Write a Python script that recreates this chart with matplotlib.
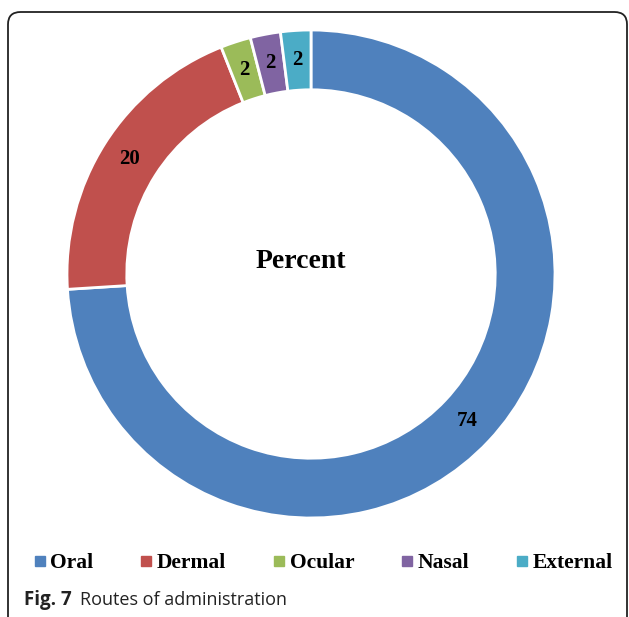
import matplotlib
matplotlib.use("Agg")
import matplotlib.pyplot as plt
import numpy as np
from matplotlib.patches import FancyBboxPatch
from matplotlib.lines import Line2D

# Routes of administration (percent)
routes = ["Oral", "Dermal", "Ocular", "Nasal", "External"]
percent = [74, 20, 2, 2, 2]
colors = ["#4F81BD", "#C0504D", "#9BBB59", "#8064A2", "#4BACC6"]

fig = plt.figure(figsize=(6.29, 6.17), dpi=100)

# rounded frame around the figure panel
frame = FancyBboxPatch((8 / 629, -0.05), 619 / 629, 1 - 12 / 617 + 0.05,
                       boxstyle="round,pad=0,rounding_size=0.02",
                       transform=fig.transFigure, fill=False,
                       edgecolor="#222222", linewidth=1.3)
fig.patches.append(frame)

ax = fig.add_axes([67 / 629, 99 / 617, 488 / 629, 488 / 617])
wedges, _ = ax.pie(percent, colors=colors, startangle=90, counterclock=False,
                   radius=1.0,
                   wedgeprops=dict(width=0.245, edgecolor="white", linewidth=2))
ax.set_xlim(-1, 1)
ax.set_ylim(-1, 1)
ax.set_aspect("equal")
ax.axis("off")

# value labels on the ring
for w, v in zip(wedges, percent):
    ang = np.deg2rad((w.theta1 + w.theta2) / 2)
    r = 0.88
    ax.text(r * np.cos(ang), r * np.sin(ang), str(v), ha="center", va="center",
            fontsize=15, fontweight="bold", family="Liberation Serif")

ax.text(-0.04, 0.05, "Percent", ha="center", va="center", fontsize=20,
        fontweight="bold", family="Liberation Serif")

handles = [Line2D([], [], marker="s", linestyle="", markersize=7,
                  markerfacecolor=c, markeredgecolor=c) for c in colors]
fig.legend(handles, routes, loc="center", bbox_to_anchor=(322 / 629, 1 - 563 / 617),
           ncol=5, frameon=False, handletextpad=0.1, columnspacing=2.05,
           handlelength=0.8, prop=dict(family="Liberation Serif", weight="bold", size=15.5))

fig.text(24 / 629, 1 - 600 / 617, "Fig. 7", fontsize=13.5, va="center",
         family="Open Sans", fontweight="bold", color="#222222")
fig.text(80 / 629, 1 - 600 / 617, "Routes of administration", fontsize=13,
         va="center", family="Open Sans", color="#222222")

fig.savefig("out.png", dpi=100)
